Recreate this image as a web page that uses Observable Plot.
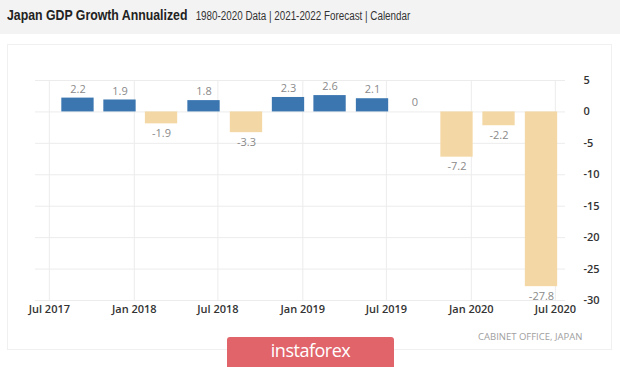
<!DOCTYPE html>
<html>
<head>
<meta charset="utf-8">
<script src="https://cdn.jsdelivr.net/npm/d3@7"></script>
<script src="https://cdn.jsdelivr.net/npm/@observablehq/plot@0.6"></script>
<style>
  html, body { margin: 0; padding: 0; background: #ffffff; }
  body { width: 620px; height: 367px; position: relative; overflow: hidden; }
  #head { position: absolute; left: 0; top: 0; width: 620px; height: 34px; background: #f3f3f3; }
  #headtext { position: absolute; left: 7px; top: 6px; white-space: nowrap; transform: scaleX(0.82); transform-origin: 0 0; font-family: "Liberation Sans", Arial, sans-serif; color: #222; }
  #title { font-size: 15px; font-weight: bold; }
  #subtitle { font-size: 12px; color: #333; margin-left: 10px; }
  #box { position: absolute; left: 7px; top: 44px; width: 605px; height: 306px; border: 1px solid #f0f0f0; box-sizing: border-box; }
  #chart { position: absolute; left: 0; top: 0; }
  #source { position: absolute; left: 478px; top: 330px; font-family: "Open Sans", sans-serif; font-size: 9.5px; color: #a0a0a0; white-space: nowrap; }
  #brand { position: absolute; left: 227px; top: 337px; width: 167px; height: 32px; background: #e1646b; border-radius: 3px; color: #fff; font-family: "Open Sans", sans-serif; font-size: 18px; letter-spacing: -0.5px; text-align: center; line-height: 27px; }
</style>
</head>
<body>
<div id="head"><div id="headtext"><span id="title">Japan GDP Growth Annualized</span><span id="subtitle">1980-2020 Data | 2021-2022 Forecast | Calendar</span></div></div>
<div id="box"><div id="chart"></div></div>
<div id="source">CABINET OFFICE, JAPAN</div>
<div id="brand">instaforex</div>
<script>
// Quarter (centre date of each bar) and annualized GDP growth, %
const quarters = ["2017-09-01", "2017-12-01", "2018-03-01", "2018-06-01", "2018-09-01", "2018-12-01",
                  "2019-03-01", "2019-06-01", "2019-09-01", "2019-12-01", "2020-03-01", "2020-06-01"];
const growth = [2.2, 1.9, -1.9, 1.8, -3.3, 2.3, 2.6, 2.1, 0, -7.2, -2.2, -27.8];
const xTickLabels = ["2017-07-01", "2018-01-01", "2018-07-01", "2019-01-01", "2019-07-01", "2020-01-01", "2020-07-01"];
const yTickValues = [5, 0, -5, -10, -15, -20, -25, -30];

const data = quarters.map((q, i) => ({ date: new Date(q), value: growth[i] }));
const xTicks = xTickLabels.map(d => new Date(d));
const pos = data.filter(d => d.value >= 0);
const neg = data.filter(d => d.value < 0);

const chart = Plot.plot({
  width: 603,
  height: 285,
  marginTop: 35,
  marginBottom: 30,
  marginLeft: 27,
  marginRight: 46,
  style: { fontFamily: "Open Sans, sans-serif", fontSize: "11px", color: "#333", background: "transparent", fontWeight: 600 },
  x: {
    type: "utc",
    domain: [new Date("2017-06-01"), new Date("2020-07-23")],
    ticks: xTicks,
    tickFormat: d3.utcFormat("%b %Y"),
    tickSize: 0,
    tickPadding: 5,
    label: null
  },
  y: {
    domain: [-30, 5],
    ticks: yTickValues,
    tickFormat: d => String(d),
    axis: "right",
    tickSize: 0,
    tickPadding: 18,
    label: null
  },
  color: { type: "identity" },
  marks: [
    Plot.gridX(xTicks, { stroke: "#ececec", strokeOpacity: 1 }),
    Plot.gridY(yTickValues, { stroke: "#ececec", strokeOpacity: 1 }),
    Plot.rect(data, {
      x1: d => d3.utcDay.offset(d.date, -35),
      x2: d => d3.utcDay.offset(d.date, 35),
      y1: 0,
      y2: "value",
      fill: d => d.value >= 0 ? "#3b76b1" : "#f3d8a6"
    }),
    Plot.text(pos, { x: "date", y: "value", text: d => String(d.value), dy: -9, fill: "#8a8a8a", fontWeight: 400, fontSize: 11 }),
    Plot.text(neg, { x: "date", y: "value", text: d => String(d.value), dy: 9.5, fill: "#8a8a8a", fontWeight: 400, fontSize: 11 })
  ]
});
document.getElementById("chart").appendChild(chart);
</script>
</body>
</html>
